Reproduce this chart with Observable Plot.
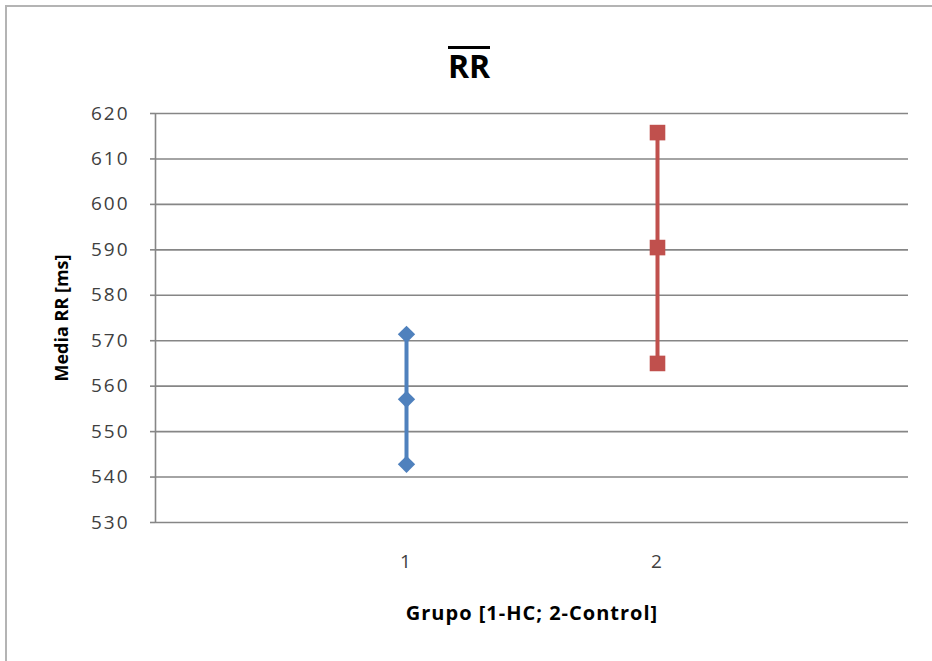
<!DOCTYPE html>
<html>
<head>
<meta charset="utf-8">
<script src="https://cdn.jsdelivr.net/npm/d3@7"></script>
<script src="https://cdn.jsdelivr.net/npm/@observablehq/plot@0.6"></script>
<style>
  html, body { margin: 0; padding: 0; background: #fff; overflow: hidden; width: 932px; height: 661px; }
  #wrap { position: relative; width: 932px; height: 661px; }
  #frame { position: absolute; left: 5px; top: 5px; width: 1000px; height: 1000px; border: 2px solid #b4b4b4; box-sizing: border-box; }
  #title { position: absolute; left: 0; width: 938px; top: 46px; text-align: center; font-family: "Open Sans", sans-serif; font-weight: bold; font-size: 32px; color: #000; line-height: 30px; }
  #title span { display: inline-block; border-top: 3px solid #000; line-height: 30px; padding-top: 2px; }
  #chart { position: absolute; left: 0; top: 0; }
  g[aria-label="y-axis tick label"] text, g[aria-label="x-axis tick label"] text { letter-spacing: 2px; }
  .xlab text { letter-spacing: 1px; }
</style>
</head>
<body>
<div id="wrap">
  <div id="frame"></div>
  <div id="chart"></div>
  <div id="title"><span>RR</span></div>
</div>
<script>
// Data
const grupos = [1, 2];
const nombres = ["HC", "Control"];
const inferior = [542.8, 565.0];
const media = [557.1, 590.5];
const superior = [571.4, 615.8];
const colores = ["#4F81BD", "#C0504D"];
const simbolos = ["diamond2", "square"];
const yTicks = [530, 540, 550, 560, 570, 580, 590, 600, 610, 620];
const xTicks = [1, 2];
const tituloY = "Media RR [ms]";
const tituloX = "Grupo [1-HC; 2-Control]";

const rangos = grupos.map((g, i) => ({grupo: g, lo: inferior[i], hi: superior[i], color: colores[i]}));
const puntos = grupos.flatMap((g, i) =>
  [inferior[i], media[i], superior[i]].map(v => ({grupo: g, valor: v, color: colores[i], simbolo: simbolos[i]}))
);

const font = "'Open Sans', sans-serif";
const chart = Plot.plot({
  width: 932,
  height: 661,
  marginLeft: 155,
  marginRight: 24,
  marginTop: 113,
  marginBottom: 139,
  style: {fontFamily: font, background: "transparent", overflow: "visible"},
  x: {domain: [0, 3]},
  y: {domain: [530, 620]},
  marks: [
    Plot.ruleY(yTicks, {stroke: "#868686", strokeWidth: 1.6}),
    Plot.ruleX([0], {stroke: "#868686", strokeWidth: 1.6}),
    Plot.axisY({ticks: yTicks, tickSize: 5, tickPadding: 21, stroke: "#868686", strokeWidth: 1.6, fontSize: 19, fontWeight: 500, fill: "#404040", label: null, tickFormat: d => String(d)}),
    Plot.axisX({ticks: xTicks, tickSize: 0, tickPadding: 32, fontSize: 19, fontWeight: 500, fill: "#404040", label: null, tickFormat: d => String(d)}),
    Plot.text([tituloY], {frameAnchor: "left", textAnchor: "middle", dx: -93, rotate: -90, text: d => d, fontSize: 18, fontWeight: "bold", fill: "#000"}),
    Plot.text([tituloX], {frameAnchor: "bottom", textAnchor: "middle", dy: 97, text: d => d, fontSize: 20, fontWeight: "bold", fill: "#000", className: "xlab"}),
    Plot.ruleX(rangos, {x: "grupo", y1: "lo", y2: "hi", stroke: "color", strokeWidth: 4}),
    Plot.dot(puntos.filter(d => d.simbolo === "diamond2"), {x: "grupo", y: "valor", symbol: "diamond2", r: 7.8, fill: "color", stroke: "none"}),
    Plot.dot(puntos.filter(d => d.simbolo === "square"), {x: "grupo", y: "valor", symbol: "square", r: 8.8, fill: "color", stroke: "none"})
  ]
});
document.getElementById("chart").appendChild(chart);
</script>
</body>
</html>
